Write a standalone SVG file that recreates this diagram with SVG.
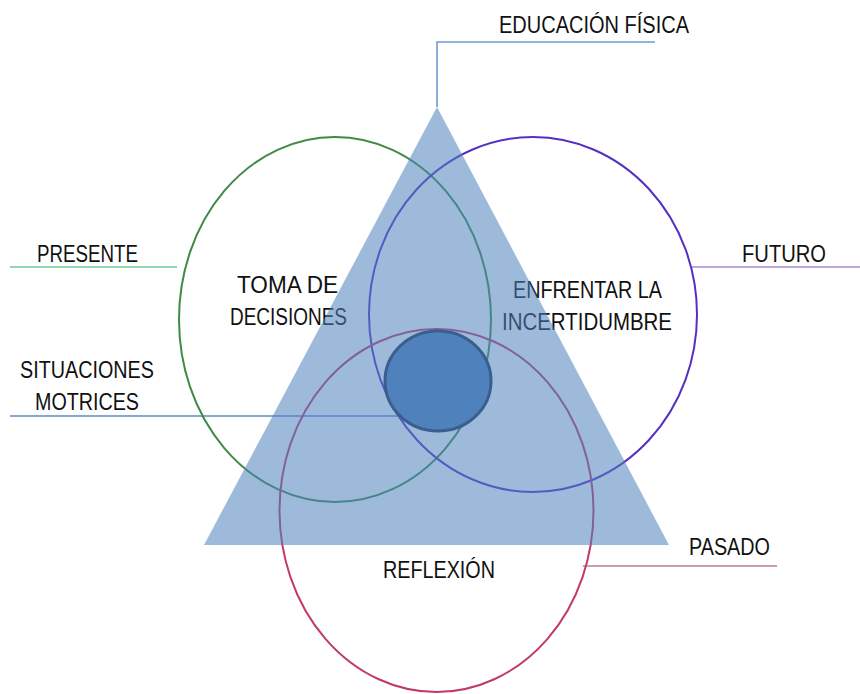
<svg xmlns="http://www.w3.org/2000/svg" width="860" height="694" viewBox="0 0 860 694">
<style>
  .t { font-family: "Liberation Sans", Arial, sans-serif; font-size: 23.5px; fill: #111111; }
  .ring { fill: none; stroke-width: 2; }
  .lead { fill: none; stroke-width: 1.6; }
</style>
<rect width="860" height="694" fill="#ffffff"/>
<g id="connectors">
  <polyline class="lead" points="437,107 437,42 655,42" stroke="#6F9BD1"/>
  <line class="lead" x1="10" y1="267" x2="177" y2="267" stroke="#6CCB96"/>
  <line class="lead" x1="10" y1="416" x2="400" y2="416" stroke="#5B8AC6"/>
  <line class="lead" x1="692" y1="267" x2="860" y2="267" stroke="#A98AD0"/>
  <line class="lead" x1="583" y1="566" x2="777" y2="566" stroke="#C27C86"/>
</g>
<g id="circle-presente">
  <ellipse class="ring" cx="335" cy="319.5" rx="156" ry="182.5" stroke="#3F8A45"/>
</g>
<g id="circle-futuro">
  <ellipse class="ring" cx="533" cy="314.5" rx="164" ry="177.5" stroke="#5530C0"/>
</g>
<g id="circle-pasado">
  <ellipse class="ring" cx="436.5" cy="510.5" rx="157" ry="181.5" stroke="#C23A6C"/>
</g>
<g id="text-toma">
  <text class="t" x="237" y="293" textLength="101" lengthAdjust="spacingAndGlyphs">TOMA DE</text>
  <text class="t" x="230" y="325" textLength="117" lengthAdjust="spacingAndGlyphs">DECISIONES</text>
</g>
<g id="text-enfrentar">
  <text class="t" x="513" y="298" textLength="149" lengthAdjust="spacingAndGlyphs">ENFRENTAR LA</text>
  <text class="t" x="502" y="330" textLength="170" lengthAdjust="spacingAndGlyphs">INCERTIDUMBRE</text>
</g>
<g id="triangle">
  <polygon points="437,107 669,545 204,545" fill="#4F81BD" fill-opacity="0.55"/>
</g>
<g id="center">
  <ellipse cx="438" cy="381" rx="53" ry="50" fill="#4F81BD" stroke="#3A5F8E" stroke-width="3"/>
</g>
<g id="label-educacion">
  <text class="t" x="499" y="33" textLength="190" lengthAdjust="spacingAndGlyphs">EDUCACIÓN FÍSICA</text>
</g>
<g id="label-presente">
  <text class="t" x="37" y="262" textLength="101" lengthAdjust="spacingAndGlyphs">PRESENTE</text>
</g>
<g id="label-situaciones">
  <text class="t" x="20" y="378" textLength="134" lengthAdjust="spacingAndGlyphs">SITUACIONES</text>
  <text class="t" x="35" y="410" textLength="104" lengthAdjust="spacingAndGlyphs">MOTRICES</text>
</g>
<g id="label-futuro">
  <text class="t" x="742" y="262" textLength="84" lengthAdjust="spacingAndGlyphs">FUTURO</text>
</g>
<g id="label-pasado">
  <text class="t" x="689" y="555" textLength="81" lengthAdjust="spacingAndGlyphs">PASADO</text>
</g>
<g id="label-reflexion">
  <text class="t" x="383" y="578" textLength="112" lengthAdjust="spacingAndGlyphs">REFLEXIÓN</text>
</g>
</svg>
